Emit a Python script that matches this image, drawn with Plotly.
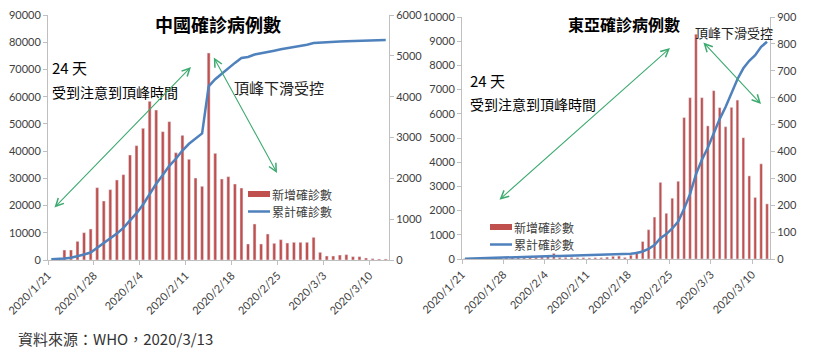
import pandas as pd
import plotly.graph_objects as go

dates = pd.date_range("2020-01-21", "2020-03-12", freq="D").strftime("%Y-%m-%d").tolist()

cn_new = [0, 0, 245, 245, 457, 669, 759, 1771, 1445, 1723,
          1959, 2090, 2571, 2800, 3225, 3886, 3673, 3143, 3388, 2628,
          3053, 2466, 2008, 1804, 5070, 2612, 1984, 2041, 1861, 1763,
          392, 882, 392, 637, 408, 498, 416, 433, 433, 433,
          555, 188, 98, 98, 122, 131, 82, 82, 49, 33,
          24, 24]
cn_total = [280, 310, 570, 830, 1300, 2000, 2740, 4500, 6000, 7700,
            9700, 11800, 14400, 17200, 20400, 24300, 28000, 31200, 34600, 37200,
            40200, 42700, 44700, 46500, 63800, 66400, 68400, 70500, 72400, 74200,
            74600, 75500, 75900, 76500, 76900, 77400, 77800, 78200, 78700, 79100,
            79700, 79900, 80000, 80100, 80250, 80400, 80500, 80600, 80650, 80700,
            80750, 80800]
ea_new = [2, 2, 3, 4, 5, 6, 5, 6, 7, 6,
          7, 6, 7, 8, 9, 21, 6, 6, 6, 5,
          5, 4, 5, 5, 7, 10, 11, 6, 14, 27,
          65, 109, 156, 285, 170, 226, 289, 526, 600, 836,
          600, 495, 626, 563, 492, 564, 591, 451, 309, 229,
          354, 205]
ea_total = [15, 20, 25, 30, 35, 40, 45, 50, 55, 60,
            65, 70, 80, 88, 95, 120, 128, 135, 140, 145,
            150, 155, 160, 165, 172, 182, 195, 205, 220, 248,
            310, 420, 575, 860, 1030, 1260, 1550, 2080, 2680, 3500,
            4100, 4600, 5220, 5780, 6280, 6840, 7430, 7880, 8190, 8420,
            8770, 8980]

tick_dates = ["2020-01-21", "2020-01-28", "2020-02-04", "2020-02-11",
              "2020-02-18", "2020-02-25", "2020-03-03", "2020-03-10"]
tick_text = ["2020/1/21", "2020/1/28", "2020/2/4", "2020/2/11",
             "2020/2/18", "2020/2/25", "2020/3/3", "2020/3/10"]

name_new = "新增確診數"
name_total = "累計確診數"
title_cn = "中國確診病例數"
title_ea = "東亞確診病例數"
note_days = "24 天"
note_rise = "受到注意到頂峰時間"
note_fall = "頂峰下滑受控"
source = "資料來源：WHO，2020/3/13"

RED = "#C0504D"
BLUE = "#4F81BD"
GREEN = "#3DAA6F"
AX = "#BFBFBF"
TXT = "#404040"
LAT = "Lato, Noto Sans CJK TC"
CJK = "Noto Sans CJK TC, Lato"

W, H = 813, 352
def px(x): return x / W
def py(y): return 1 - y / H

fig = go.Figure()
DAY = 86400000
fig.add_trace(go.Bar(x=dates, y=cn_new, name=name_new, marker_color=RED,
                     xaxis="x", yaxis="y", xperiod=DAY, xperiodalignment="middle",
                     showlegend=False))
fig.add_trace(go.Scatter(x=dates, y=cn_total, name=name_total, mode="lines",
                         line=dict(color=BLUE, width=2.5), xaxis="x", yaxis="y2",
                         xperiod=DAY, xperiodalignment="middle", showlegend=False))
fig.add_trace(go.Bar(x=dates, y=ea_new, name=name_new, marker_color=RED,
                     xaxis="x2", yaxis="y3", xperiod=DAY, xperiodalignment="middle",
                     showlegend=False))
fig.add_trace(go.Scatter(x=dates, y=ea_total, name=name_total, mode="lines",
                         line=dict(color=BLUE, width=2.5), xaxis="x2", yaxis="y4",
                         xperiod=DAY, xperiodalignment="middle", showlegend=False))

common_x = dict(type="date", range=["2020-01-21", "2020-03-13"], tickvals=tick_dates,
                ticktext=tick_text, tickangle=-45, showline=True, linecolor=AX,
                ticks="outside", tickcolor=AX, ticklen=4, showgrid=False, zeroline=False,
                automargin=False, tickfont=dict(family=LAT, size=11, color=TXT))
common_y = dict(showline=True, linecolor=AX, ticks="outside", tickcolor=AX, ticklen=4,
                showgrid=False, zeroline=False, tickformat="d", automargin=False,
                tickfont=dict(family=LAT, size=11, color=TXT))

fig.update_layout(
    width=W, height=H, margin=dict(l=0, r=0, t=0, b=0, autoexpand=False),
    paper_bgcolor="white", plot_bgcolor="white", bargap=0.55, showlegend=False,
    xaxis=dict(domain=[px(48), px(389)], anchor="y", **common_x),
    yaxis=dict(domain=[py(260), py(15)], range=[0, 6000], dtick=1000, side="right",
               anchor="x", **common_y),
    yaxis2=dict(range=[0, 90000], dtick=10000, side="left", overlaying="y",
                anchor="x", **common_y),
    xaxis2=dict(domain=[px(462), px(770)], anchor="y3", **common_x),
    yaxis3=dict(domain=[py(259), py(17)], range=[0, 900], dtick=100, side="right",
                anchor="x2", **common_y),
    yaxis4=dict(range=[0, 10000], dtick=1000, side="left", overlaying="y3",
                anchor="x2", **common_y),
)

def text(x, y, s, size, bold=False, anchor="left", color="#000000"):
    fig.add_annotation(x=px(x), y=py(y), xref="paper", yref="paper", text=s,
                       showarrow=False, xanchor=anchor, yanchor="middle", borderpad=0,
                       font=dict(family=CJK, size=size, color=color,
                                 weight="bold" if bold else "normal"))

text(218, 24, title_cn, 18, bold=True, anchor="center")
text(624, 24, title_ea, 16, bold=True, anchor="center")
text(51, 68, note_days, 15)
text(51, 92, note_rise, 14)
text(233, 87, note_fall, 15, color="#222222")
text(469, 80, note_days, 15)
text(469, 104, note_rise, 14)
text(774, 32, note_fall, 13, anchor="right", color="#222222")
text(17, 338, source, 15, color="#333333")

# legend (drawn as swatches + labels)
def legend(x, y):
    step = 17.5
    fig.add_shape(type="rect", xref="paper", yref="paper",
                  x0=px(x), x1=px(x + 22), y0=py(y + 3), y1=py(y - 3),
                  fillcolor=RED, line_width=0)
    fig.add_shape(type="line", xref="paper", yref="paper",
                  x0=px(x), x1=px(x + 22), y0=py(y + step), y1=py(y + step),
                  line=dict(color=BLUE, width=2.5))
    text(x + 23, y, name_new, 12, color=TXT)
    text(x + 23, y + step, name_total, 12, color=TXT)

legend(248, 194)
legend(490, 227)

def arrow(x1, y1, x2, y2):
    fig.add_annotation(x=px(x2), y=py(y2), xref="paper", yref="paper",
                       ax=x1 - x2, ay=y1 - y2, axref="pixel", ayref="pixel",
                       text="", showarrow=True, arrowside="end+start",
                       arrowhead=5, startarrowhead=5, arrowsize=1.4, startarrowsize=1.4,
                       arrowwidth=1.1, arrowcolor=GREEN, standoff=0, startstandoff=0)

arrow(53, 209, 191, 67)
arrow(213, 56, 277, 173)
arrow(498, 201, 670, 48)
arrow(702, 41, 761, 104)

fig.write_html("out.html")
